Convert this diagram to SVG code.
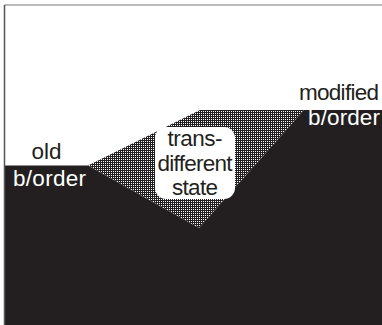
<svg xmlns="http://www.w3.org/2000/svg" width="382" height="325" viewBox="0 0 382 325">
  <defs>
    <pattern id="hatch" width="2" height="2" patternUnits="userSpaceOnUse">
      <rect width="2" height="2" fill="#231f20" shape-rendering="crispEdges"/>
      <rect x="1" y="1" width="1" height="1" fill="#ffffff" shape-rendering="crispEdges"/>
    </pattern>
    <style>
      .t { font-family: "Liberation Sans", Arial, sans-serif; font-size: 22.5px; text-anchor: middle; }
      .dark { fill: #231f20; }
      .light { fill: #ffffff; }
    </style>
  </defs>
  <rect width="382" height="325" fill="#ffffff"/>
  <g id="hatched-zone">
    <polygon points="88,165.5 200,110 304,110 199,228" fill="url(#hatch)"/>
  </g>
  <g id="ground">
    <polygon points="5,165.5 88,165.5 199,228 304,110 382,110 382,325 5,325" fill="#231f20"/>
  </g>
  <g id="frame">
    <line x1="4.5" y1="5" x2="382" y2="5" stroke="#777777" stroke-width="1.2"/>
    <line x1="4.5" y1="5" x2="4.5" y2="325" stroke="#555555" stroke-width="1.5"/>
  </g>
  <g id="trans-label">
    <rect x="155" y="127" width="80" height="72" rx="11" fill="#ffffff"/>
    <text class="t dark" x="195" y="145.5" textLength="55">trans-</text>
    <text class="t dark" x="195" y="170.5" textLength="75">different</text>
    <text class="t dark" x="195" y="195" textLength="46">state</text>
  </g>
  <g id="old-label">
    <text class="t dark" x="46.5" y="158.5">old</text>
    <text class="t light" x="49.5" y="185.5" textLength="73">b/order</text>
  </g>
  <g id="modified-label">
    <text class="t dark" x="339" y="100" textLength="80">modified</text>
    <text class="t light" x="344" y="125" textLength="72">b/order</text>
  </g>
</svg>
